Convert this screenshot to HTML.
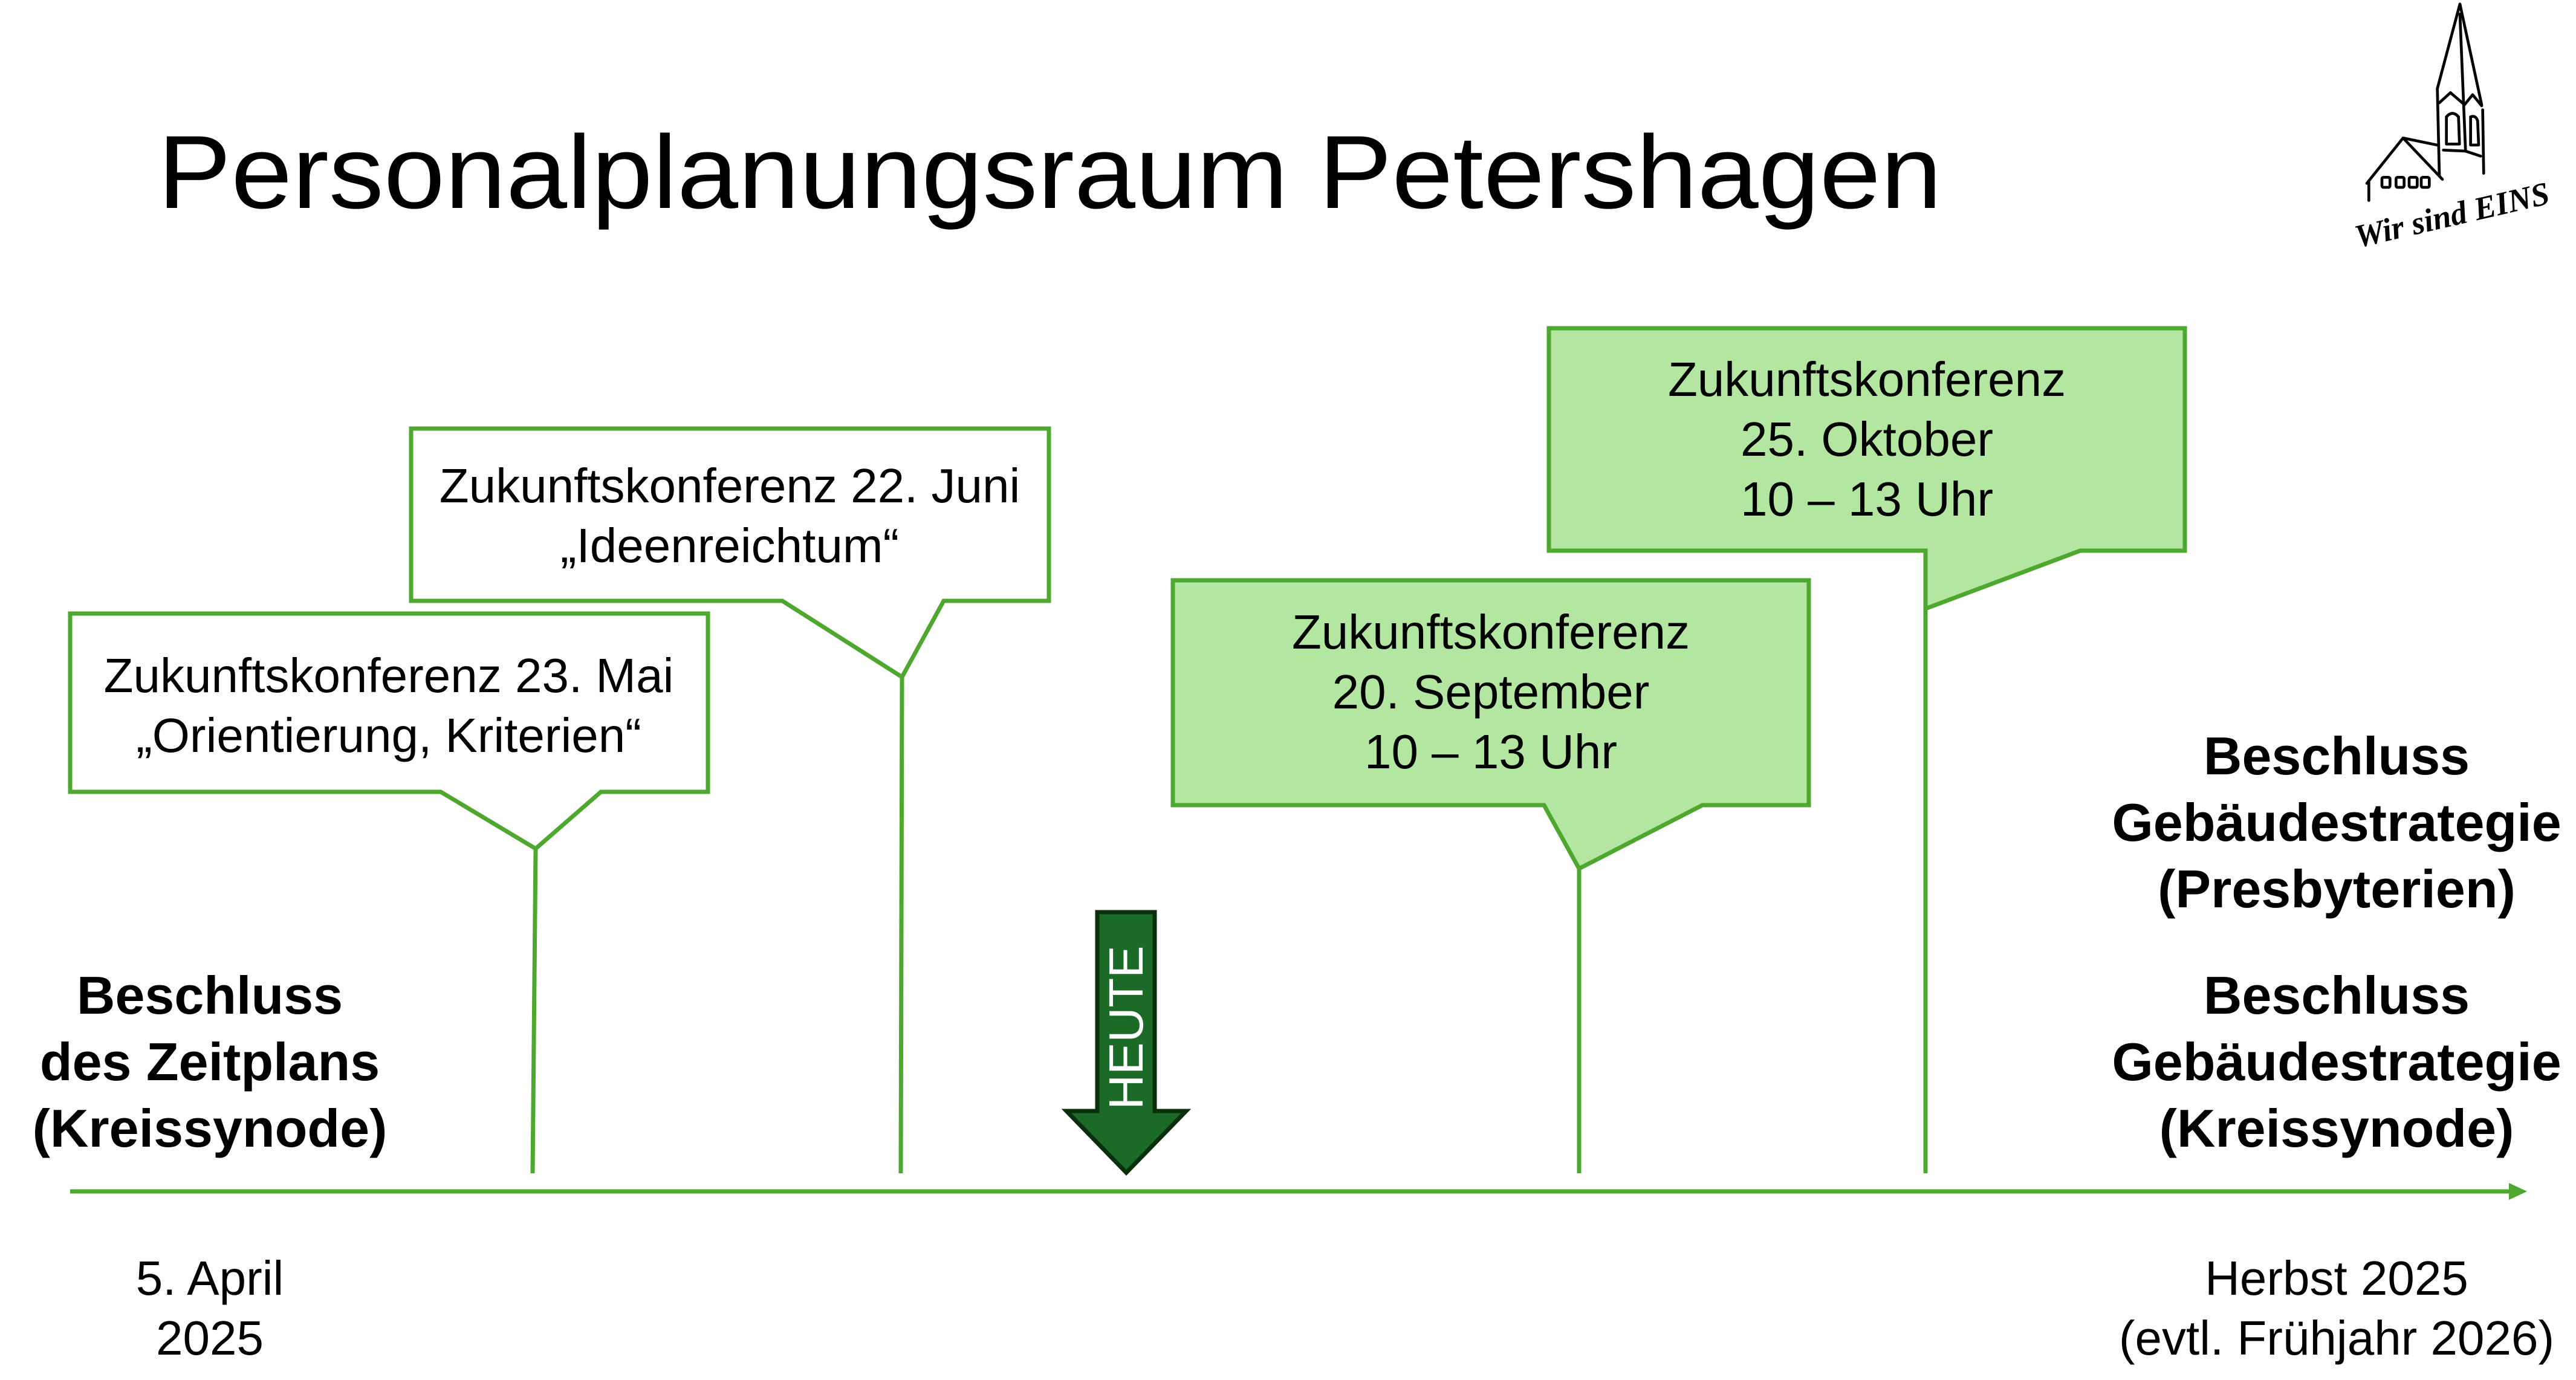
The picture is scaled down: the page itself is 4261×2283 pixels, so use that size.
<!DOCTYPE html>
<html><head><meta charset="utf-8"><style>
html,body{margin:0;padding:0;background:#fff;}
body{width:4261px;height:2283px;position:relative;overflow:hidden;font-family:"Liberation Sans",sans-serif;}
</style></head><body>
<svg width="4261" height="2283" viewBox="0 0 4261 2283" xmlns="http://www.w3.org/2000/svg" style="position:absolute;left:0;top:0">
<text x="261" y="344" font-family="Liberation Sans, sans-serif" font-size="172" fill="#000" textLength="2951" lengthAdjust="spacingAndGlyphs">Personalplanungsraum Petershagen</text>

<g stroke="#4ea72e" stroke-width="7" stroke-linejoin="miter" fill="#fff">
<path d="M116,1015 L1171,1015 L1171,1310 L994,1310 L886,1404 L729,1310 L116,1310 Z"/>
<line x1="886" y1="1404" x2="881" y2="1941"/>
<path d="M680,709 L1735,709 L1735,994 L1561,994 L1492,1120 L1294,994 L680,994 Z"/>
<line x1="1492" y1="1120" x2="1490" y2="1941"/>
<path d="M1940,960 L2992,960 L2992,1332 L2816,1332 L2612,1437 L2554,1332 L1940,1332 Z" fill="#b3e6a1"/>
<line x1="2612" y1="1437" x2="2612" y2="1941"/>
<path d="M2562,543 L3614,543 L3614,911 L3441,911 L3185,1007 L3185,911 L2562,911 Z" fill="#b3e6a1"/>
<line x1="3185" y1="1007" x2="3185" y2="1941"/>
<line x1="116" y1="1971" x2="4160" y2="1971"/>
</g>
<path d="M4180,1971 L4150,1957 L4150,1985 Z" fill="#4ea72e"/>

<path d="M1815,1509 L1910,1509 L1910,1838 L1962,1838 L1863,1940 L1764,1838 L1815,1838 Z" fill="#1c6a27" stroke="#0a2f0c" stroke-width="7"/>
<text transform="translate(1890,1700) rotate(-90)" x="0" y="0" text-anchor="middle" font-family="Liberation Sans, sans-serif" font-size="80" fill="#fff">HEUTE</text>

<g font-family="Liberation Sans, sans-serif" font-size="80" fill="#000" text-anchor="middle">
<text x="643" y="1145">Zukunftskonferenz 23. Mai</text>
<text x="643" y="1244">„Orientierung, Kriterien“</text>
<text x="1207" y="831">Zukunftskonferenz 22. Juni</text>
<text x="1207" y="930">„Ideenreichtum“</text>
<text x="2466" y="1073">Zukunftskonferenz</text>
<text x="2466" y="1172">20. September</text>
<text x="2466" y="1271">10 – 13 Uhr</text>
<text x="3088" y="655">Zukunftskonferenz</text>
<text x="3088" y="754">25. Oktober</text>
<text x="3088" y="853">10 – 13 Uhr</text>
</g>
<g font-family="Liberation Sans, sans-serif" font-size="88" font-weight="bold" fill="#000" text-anchor="middle">
<text x="347" y="1677">Beschluss</text>
<text x="347" y="1787">des Zeitplans</text>
<text x="347" y="1897">(Kreissynode)</text>
<text x="3865" y="1281">Beschluss</text>
<text x="3865" y="1391">Gebäudestrategie</text>
<text x="3865" y="1501">(Presbyterien)</text>
<text x="3865" y="1677">Beschluss</text>
<text x="3865" y="1787">Gebäudestrategie</text>
<text x="3865" y="1897">(Kreissynode)</text>
</g>
<g font-family="Liberation Sans, sans-serif" font-size="80" fill="#000" text-anchor="middle">
<text x="347" y="2142">5. April</text>
<text x="347" y="2241">2025</text>
<text x="3865" y="2142">Herbst 2025</text>
<text x="3865" y="2241">(evtl. Frühjahr 2026)</text>
</g>

<g transform="translate(3850,0) scale(0.3333)" fill="none" stroke="#000" stroke-width="14" stroke-linecap="round" stroke-linejoin="round">
<path d="M545,440 L657,20 L765,520"/>
<path d="M657,70 L685,750"/>
<path d="M545,440 L555,870"/>
<path d="M770,545 L775,860"/>
<path d="M555,510 L610,460 L680,520 L720,470 L765,525"/>
<path d="M590,715 L590,580 Q620,545 650,580 L655,715 Z"/>
<path d="M710,720 L710,580 Q735,570 745,600 L750,720 Z"/>
<path d="M575,745 L685,750 L760,775"/>
<path d="M195,910 L375,685 L570,890"/>
<path d="M375,685 L545,720"/>
<path d="M205,905 L205,995"/>
<rect x="270" y="880" width="40" height="50" rx="8"/>
<rect x="340" y="880" width="40" height="50" rx="8"/>
<rect x="405" y="880" width="40" height="50" rx="8"/>
<rect x="465" y="880" width="40" height="50" rx="8"/>
</g>
<text transform="translate(3900,410) rotate(-13)" font-family="Liberation Serif, serif" font-style="italic" font-weight="bold" font-size="54" fill="#000">Wir sind EINS</text>
</svg>
</body></html>
